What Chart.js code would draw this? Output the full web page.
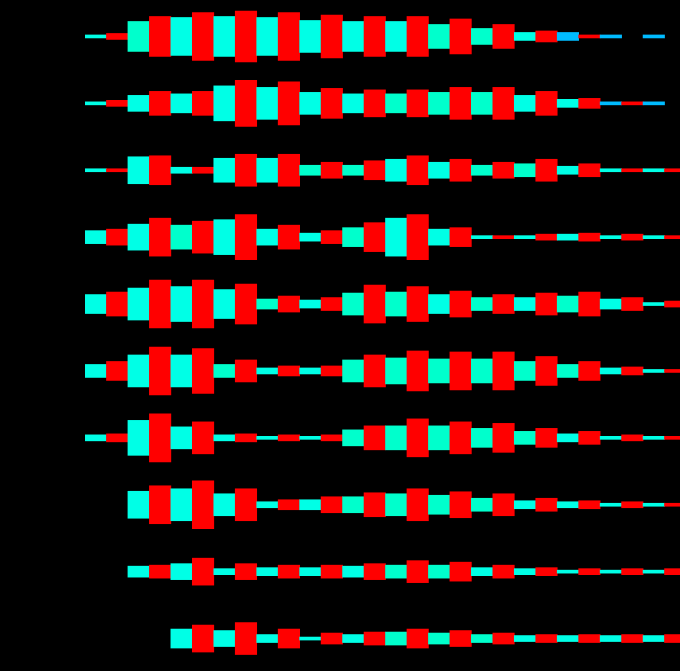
<!DOCTYPE html>
<html>
<head>
<meta charset="utf-8">
<script src="https://cdn.jsdelivr.net/npm/chart.js@4.4.1/dist/chart.umd.min.js"></script>
<style>
  html, body { margin: 0; padding: 0; background: #000; overflow: hidden; width: 680px; height: 671px; }
  canvas { display: block; }
</style>
</head>
<body>
<canvas id="c" width="686" height="672"></canvas>
<script>
// Column categories (28 time steps)
const categories = ['1','2','3','4','5','6','7','8','9','10','11','12','13','14',
                    '15','16','17','18','19','20','21','22','23','24','25','26','27','28'];

// Band amplitudes per row (full band height, 67 = one row's spacing); null = no band
const row1  = [3, 6, 30, 40, 38, 48, 40, 51, 38, 48, 32, 43, 30, 40, 30, 40, 24, 35, 16, 24, 8, 11, 8, 3, 3, null, 3, null];
const row2  = [3, 6, 16, 24, 19, 24, 35, 46, 32, 43, 22, 30, 19, 27, 19, 27, 22, 32, 22, 32, 16, 24, 8, 10, 3, 3, 3, null];
const row3  = [3, 3, 27, 29, 6, 6, 24, 32, 24, 32, 10, 16, 10, 19, 22, 29, 16, 22, 10, 16, 13, 22, 8, 13, 3, 3, 3, 3];
const row4  = [13, 16, 26, 38, 24, 32, 35, 45, 16, 24, 8, 13, 19, 29, 38, 45, 16, 19, 3, 3, 3, 6, 6, 8, 3, 6, 3, 3];
const row5  = [19, 24, 32, 48, 35, 48, 29, 40, 10, 16, 8, 13, 22, 38, 24, 35, 19, 26, 13, 19, 13, 22, 16, 24, 10, 13, 3, 6];
const row6  = [13, 19, 32, 48, 32, 45, 13, 22, 6, 10, 6, 10, 22, 32, 26, 40, 24, 38, 24, 38, 19, 29, 13, 19, 6, 8, 3, 3];
const row7  = [6, 8, 35, 48, 22, 32, 6, 8, 3, 6, 3, 6, 16, 24, 24, 38, 24, 32, 19, 29, 13, 19, 8, 13, 3, 6, 3, 3];
const row8  = [null, null, 27, 38, 32, 48, 22, 32, 6, 10, 10, 16, 16, 24, 22, 32, 19, 26, 13, 22, 8, 13, 6, 8, 3, 6, 3, 3];
const row9  = [null, null, 11, 13, 16, 27, 6, 16, 8, 13, 8, 13, 11, 16, 13, 22, 13, 19, 8, 13, 6, 8, 3, 6, 3, 6, 3, 6];
const row10 = [null, null, null, null, 19, 27, 16, 32, 8, 19, 3, 11, 8, 13, 13, 19, 11, 16, 8, 11, 6, 8, 6, 8, 6, 8, 6, 8];

const rows = [row1, row2, row3, row4, row5, row6, row7, row8, row9, row10];

// Shade codes per cell (styling only): c = aqua, t = turquoise, b = sky blue, r = red
const shades = [
  'crtrcrcrcrcrcrcrtrtrcrbrbrbr',
  'crcrcrcrcrcrcrtrtrtrcrcrbrbr',
  'crcrcrcrcrtrtrcrcrtrtrcrcrcr',
  'crcrtrcrcrcrtrcrcrcrcrcrcrcr',
  'crcrcrcrtrcrtrtrcrtrcrtrcrcr',
  'crcrcrtrcrcrtrtrtrtrtrtrcrcr',
  'crcrcrcrcrcrtrtrtrtrtrcrcrcr',
  'crcrcrcrcrcrtrtrtrtrcrcrcrcr',
  'crcrcrcrcrcrcrtrtrcrcrcrcrcr',
  'crcrcrcrcrcrcrtrtrtrcrcrcrcr'
];
const palette = { c: '#00FFE6', t: '#00FFCC', b: '#00BBFF', r: '#FF0000' };

const ROW_SPAN = 67;

const datasets = rows.map((vals, r) => ({
  label: 'Row ' + (r + 1),
  data: vals.map(v => v == null ? null : [r - v / (2 * ROW_SPAN), r + v / (2 * ROW_SPAN)]),
  backgroundColor: vals.map((v, i) => palette[shades[r][i]]),
  borderWidth: 0,
  borderSkipped: false,
  grouped: false,
  categoryPercentage: 1.0,
  barPercentage: 1.0
}));

new Chart(document.getElementById('c'), {
  type: 'bar',
  data: { labels: categories, datasets },
  options: {
    responsive: false,
    animation: false,
    devicePixelRatio: 1,
    layout: { padding: { left: 85, top: 3, right: 0, bottom: 0 } },
    plugins: { legend: { display: false }, tooltip: { enabled: false } },
    scales: {
      x: { display: false, offset: true, grid: { display: false } },
      y: { display: false, min: -0.5, max: 9.5, reverse: true, grid: { display: false } }
    }
  }
});
</script>
</body>
</html>
